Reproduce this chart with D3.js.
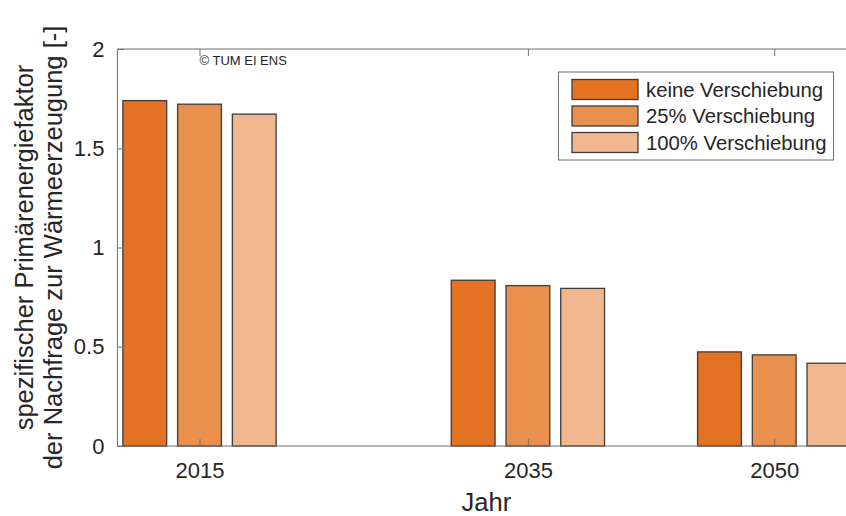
<!DOCTYPE html>
<html>
<head>
<meta charset="utf-8">
<script src="https://cdn.jsdelivr.net/npm/d3@7"></script>
<style>
  body { margin: 0; background: #fff; }
  svg { display: block; font-family: "Liberation Sans", Arial, sans-serif; }
</style>
</head>
<body>
<svg id="chart"></svg>
<script>
var width = 846;
var height = 516;

// data
var years = [2015, 2035, 2050];
var seriesNames = ["keine Verschiebung", "25% Verschiebung", "100% Verschiebung"];
var keineVals = [1.74, 0.835, 0.474];
var v25Vals = [1.722, 0.808, 0.459];
var v100Vals = [1.672, 0.794, 0.417];
var yTicks = [0, 0.5, 1, 1.5, 2];
var colors = ["#E37222", "#E9904F", "#F1B78F"];

var series = [keineVals, v25Vals, v100Vals];

var textCol = "#262626";
var axisCol = "#6f6f6f";

var svg = d3.select("#chart")
  .attr("width", width)
  .attr("height", height);

// scales (x is linear in years, like matlab bar with numeric x)
var x = d3.scaleLinear().domain([2010, 2055]).range([117.4, 856.3]);
var y = d3.scaleLinear().domain([0, 2]).range([446, 49]);

// grouped bar geometry: group width = 2/3 of min spacing, bar = 0.8 of slot
var groupW = 15 * 3 / (3 + 1.5);
var slot = groupW / 3;
var barW = slot * 0.8;

series.forEach(function (vals, si) {
  var off = (si - 1) * slot;
  svg.append("g").selectAll("rect")
    .data(vals)
    .enter().append("rect")
    .attr("x", function (d, i) { return x(years[i] + off - barW / 2); })
    .attr("width", x(2010 + barW) - x(2010))
    .attr("y", function (d) { return y(d); })
    .attr("height", function (d) { return y(0) - y(d); })
    .attr("fill", colors[si])
    .attr("stroke", "#3c3c3c")
    .attr("stroke-width", 1.3);
});

// box lines
svg.append("line").attr("x1", x(2010)).attr("x2", width).attr("y1", y(0)).attr("y2", y(0))
  .attr("stroke", axisCol).attr("stroke-width", 1);
svg.append("line").attr("x1", x(2010)).attr("x2", width).attr("y1", y(2)).attr("y2", y(2))
  .attr("stroke", axisCol).attr("stroke-width", 1);
svg.append("line").attr("x1", x(2010)).attr("x2", x(2010)).attr("y1", y(0)).attr("y2", y(2))
  .attr("stroke", axisCol).attr("stroke-width", 1);

// y axis (ticks inside)
var yAxis = d3.axisLeft(y).tickValues(yTicks).tickSize(-7).tickPadding(13)
  .tickFormat(function (d) { return d3.format("")(d); });
var gy = svg.append("g").attr("transform", "translate(" + x(2010) + ",0)").call(yAxis);
gy.select(".domain").remove();
gy.selectAll("line").attr("stroke", axisCol);
gy.selectAll("text").attr("fill", textCol).attr("font-size", 22)
  .attr("font-family", "Liberation Sans, Arial, sans-serif");

// x axis (ticks inside at bottom and top)
var xAxis = d3.axisBottom(x).tickValues(years).tickSize(-7).tickPadding(16).tickFormat(d3.format("d"));
var gx = svg.append("g").attr("transform", "translate(0," + y(0) + ")").call(xAxis);
gx.select(".domain").remove();
gx.selectAll("line").attr("stroke", axisCol);
gx.selectAll("text").attr("fill", textCol).attr("font-size", 22)
  .attr("font-family", "Liberation Sans, Arial, sans-serif");

var xTop = d3.axisTop(x).tickValues(years).tickSize(-7).tickFormat("");
var gxt = svg.append("g").attr("transform", "translate(0," + y(2) + ")").call(xTop);
gxt.select(".domain").remove();
gxt.selectAll("line").attr("stroke", axisCol);

// axis labels
svg.append("text")
  .attr("x", (x(2010) + x(2055)) / 2 - 0.5).attr("y", 511)
  .attr("text-anchor", "middle").attr("font-size", 25.5).attr("fill", textCol)
  .text("Jahr");

var yl = svg.append("text")
  .attr("transform", "translate(33," + ((y(0) + y(2)) / 2) + ") rotate(-90)")
  .attr("text-anchor", "middle").attr("font-size", 25.5).attr("fill", textCol);
yl.append("tspan").attr("x", 0).attr("dy", 0).text("spezifischer Primärenergiefaktor");
yl.append("tspan").attr("x", 0).attr("dy", 29).text("der Nachfrage zur Wärmeerzeugung [-]");

// copyright
svg.append("text")
  .attr("x", x(2015)).attr("y", 64.5)
  .attr("font-size", 13).attr("fill", textCol)
  .text("© TUM EI ENS");

// legend
var lg = svg.append("g");
lg.append("rect").attr("x", 558.5).attr("y", 72).attr("width", 275).attr("height", 88)
  .attr("fill", "#fff").attr("stroke", axisCol).attr("stroke-width", 1);
seriesNames.forEach(function (name, i) {
  var yy = 79.5 + i * 26.5;
  lg.append("rect").attr("x", 572).attr("y", yy).attr("width", 66).attr("height", 20)
    .attr("fill", colors[i]).attr("stroke", "#3c3c3c").attr("stroke-width", 1.3);
  lg.append("text").attr("x", 646).attr("y", yy + 17)
    .attr("font-size", 20.3).attr("fill", textCol).text(name);
});
</script>
</body>
</html>
